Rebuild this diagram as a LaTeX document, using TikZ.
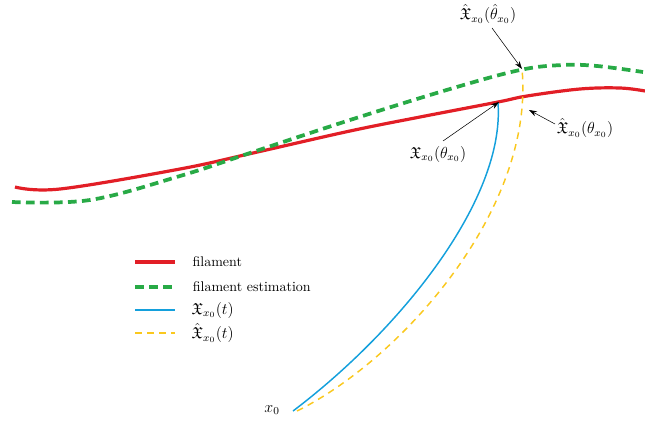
\documentclass[tikz,border=0pt]{standalone}
\usepackage{amsmath,amssymb}
\usetikzlibrary{arrows.meta}
\definecolor{filred}{RGB}{226,30,38}
\definecolor{filgreen}{RGB}{40,170,70}
\definecolor{trajblue}{RGB}{20,160,220}
\definecolor{trajyellow}{RGB}{250,200,30}
\tikzset{
  filament/.style={filred,line width=2.4pt},
  estim/.style={filgreen,line width=2.8pt,dash pattern=on 6.5pt off 4pt},
  traj/.style={trajblue,line width=1.1pt},
  trajest/.style={trajyellow,line width=1.1pt,dash pattern=on 5pt off 4pt},
  lab/.style={inner sep=1pt,font=\large},
  legtext/.style={inner sep=1pt,black,anchor=west,xshift=11pt,font=\fontsize{10.5}{12}\selectfont},
  legmath/.style={inner sep=1pt,black,anchor=west,xshift=11pt,font=\large},
  pointer/.style={-{Stealth[length=6pt,width=4pt]},line width=0.4pt,black},
}
\begin{document}
\begin{tikzpicture}[x=0.75pt,y=-0.75pt]
\useasboundingbox (0,0) rectangle (645,422);
% filament
\draw[filament] plot[smooth,tension=0.6] coordinates {(15,187) (60,189) (180,169) (253,153) (350,131) (420,117) (498,102) (527,96) (580,89) (620,88) (645,91)};
% filament estimation
\draw[estim] plot[smooth,tension=0.6] coordinates {(12,202) (90,200) (180,176) (253,152) (350,120) (450,89) (520,70) (563,65) (597,66) (643,72)};
% trajectories
\coordinate (x0b) at (293,411);
\coordinate (x0y) at (297,411);
\coordinate (xb) at (498,103);
\coordinate (xyg) at (522,69);
\coordinate (xyr) at (529,110);
\draw[traj] (x0b) .. controls (400,330) and (505,200) .. (xb);
\draw[trajest] (x0y) .. controls (400,360) and (535,210) .. (xyg);
% labels
\node[lab] (x0) at (272,410) {$x_0$};
\node[lab] (top) at (488,14) {$\hat{\mathfrak{X}}_{x_0}(\hat{\theta}_{x_0})$};
\node[lab] (right) at (585,128) {$\hat{\mathfrak{X}}_{x_0}(\theta_{x_0})$};
\node[lab] (mid) at (438,154) {$\mathfrak{X}_{x_0}(\theta_{x_0})$};
\coordinate (ptop) at (492,28);
\coordinate (pright) at (555,124);
\coordinate (pmid) at (443,141);
\draw[pointer] (ptop) -- (xyg);
\draw[pointer] (pright) -- (xyr);
\draw[pointer] (pmid) -- (499,102);
% legend
\draw[filament] (135,262) -- (175,262) node[legtext] (l1) {filament};
\draw[estim] (135,287) -- (175,287) node[legtext] (l2) {filament estimation};
\draw[traj] (135,310) -- (175,310) node[legmath] (l3) {$\mathfrak{X}_{x_0}(t)$};
\draw[trajest] (135,333) -- (175,333) node[legmath] (l4) {$\hat{\mathfrak{X}}_{x_0}(t)$};
\end{tikzpicture}
\end{document}
